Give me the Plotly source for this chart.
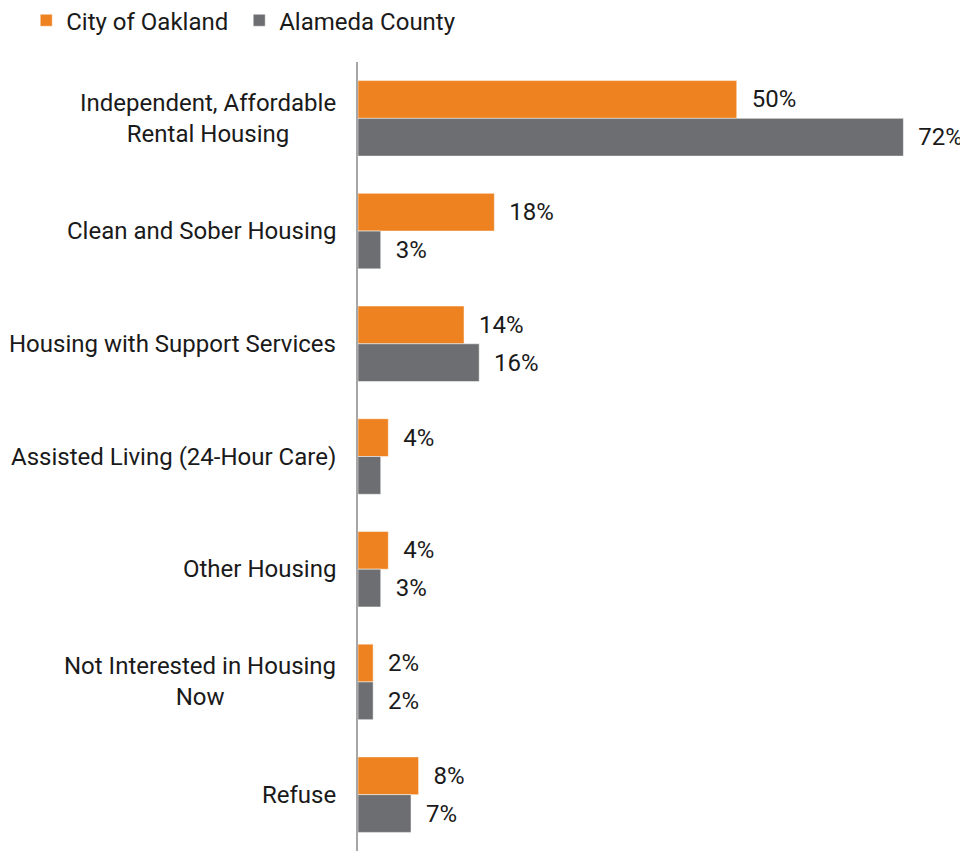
import plotly.graph_objects as go

categories = [
    "Independent, Affordable<br>Rental Housing",
    "Clean and Sober Housing",
    "Housing with Support Services",
    "Assisted Living (24-Hour Care)",
    "Other Housing",
    "Not Interested in Housing<br>Now",
    "Refuse",
]
oakland = [50, 18, 14, 4, 4, 2, 8]
county = [72, 3, 16, 3, 3, 2, 7]
county_label_shown = [True, True, True, False, True, True, True]

oakland_text = [f"\u00a0\u00a0{v}%" for v in oakland]
county_text = [f"\u00a0\u00a0{v}%" if s else "" for v, s in zip(county, county_label_shown)]

ORANGE = "#EE8220"
GREY = "#6D6E71"
FONT = "Roboto, Arial, sans-serif"
FS = 24

fig = go.Figure()
fig.add_trace(go.Bar(
    y=categories, x=oakland, name="City of Oakland\u00a0", orientation="h",
    marker=dict(color=ORANGE, line=dict(color="white", width=0.5)),
    text=oakland_text, textposition="outside", cliponaxis=False,
    textfont=dict(size=FS, color="#1a1a1a", family=FONT),
))
fig.add_trace(go.Bar(
    y=categories, x=county, name="Alameda County", orientation="h",
    marker=dict(color=GREY, line=dict(color="white", width=0.5)),
    text=county_text, textposition="outside", cliponaxis=False,
    textfont=dict(size=FS, color="#1a1a1a", family=FONT),
))

for c in categories:
    fig.add_annotation(
        x=0, y=c, xref="x", yref="y", text=c, showarrow=False,
        xanchor="right", yanchor="middle", align="center", xshift=-20,
        font=dict(size=FS, color="#1a1a1a", family=FONT),
    )

fig.update_layout(
    width=960, height=843,
    margin=dict(l=350, r=4, t=54, b=0),
    paper_bgcolor="white", plot_bgcolor="white",
    barmode="group", bargap=0.33, bargroupgap=0,
    font=dict(family=FONT, size=FS, color="#1a1a1a"),
    showlegend=True,
    legend=dict(
        orientation="h", xref="container", yref="container",
        x=0.019, y=0.985, xanchor="left", yanchor="middle",
        font=dict(size=FS, family=FONT, color="#1a1a1a"),
        itemwidth=30, traceorder="normal",
    ),
)
fig.update_xaxes(range=[0, 80], showgrid=False, zeroline=False,
                 showticklabels=False, ticks="", showline=False)
fig.update_yaxes(autorange="reversed", showgrid=False, zeroline=False,
                 showticklabels=False, ticks="", showline=True,
                 linecolor="#A6A6A6", linewidth=2)

fig.write_html("out.html")
